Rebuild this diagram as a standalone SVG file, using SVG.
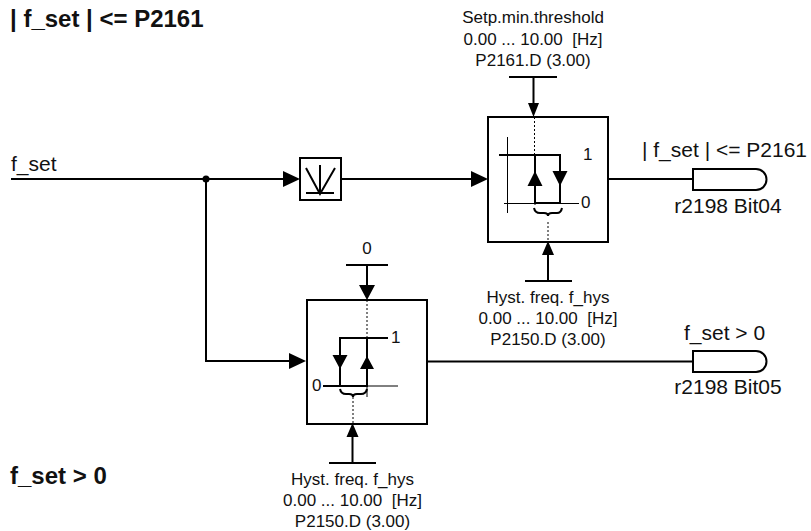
<svg xmlns="http://www.w3.org/2000/svg" width="811" height="531" viewBox="0 0 811 531">
<style>
text{font-family:"Liberation Sans",Arial,sans-serif;fill:#111;white-space:pre}
.s{font-size:17px;text-anchor:middle}
.m{font-size:21px}
.n{font-size:17px}
.c{text-anchor:middle}
.h{font-size:24px;font-weight:bold}
.l{fill:none;stroke:#000;stroke-width:2}
.t{fill:none;stroke:#000;stroke-width:1}
.d{fill:none;stroke:#000;stroke-width:1;stroke-dasharray:2 2}
.b{fill:#fff;stroke:#000;stroke-width:2}
.o{fill:#fff;stroke:#000;stroke-width:2}
.a{fill:#000;stroke:none}
</style>
<text class="h" x="10" y="27">| f_set | &lt;= P2161</text>
<text class="h" x="10" y="484">f_set &gt; 0</text>
<g id="connectors">
<path class="l" d="M11 179H283M206 179V361H290M341 179H472M608 179H693M427 361.500H693"/>
<circle cx="206" cy="179" r="3.500" fill="#000"/>
<path class="a" d="M283 171L300 179L283 187ZM471 171L488 179L471 187ZM289 353L306 361L289 369Z"/>
<path class="l" d="M533.500 77V104M509 77H557M548 254V281M525 281H572M367 265V288M346 265H388M352.500 436V463M329 463H376"/>
<path class="a" d="M528 103H539L533.500 117ZM359 285H375L367 300ZM548 241L554 255H542ZM352.500 423L358.500 437H346.500Z"/>
</g>
<g id="abs-block">
<rect class="b" x="300" y="158" width="41" height="42"/>
<path class="l" d="M306 168L320 194L335 168M320 165V194M306 193H334"/>
</g>
<g id="upper-hysteresis">
<rect class="b" x="488" y="117" width="120" height="125"/>
<path class="t" d="M507.500 137V213M504 203.500H579"/>
<path class="l" d="M499 155H560V203H535V155"/>
<path class="a" d="M535 171L542.500 186H527.500ZM552.500 171H567.500L560 186Z"/>
<path class="d" d="M534.500 117V155M548 222V242M535 203V207"/>
<path class="l" d="M534 208Q535 213 540 213H544Q548 213 548 216Q548 213 552 213H557Q561 213 562 208"/>
<text class="n" x="583" y="160">1</text>
<text class="n" x="581" y="208">0</text>
</g>
<g id="lower-hysteresis">
<rect class="b" x="307" y="300" width="120" height="124"/>
<path class="t" d="M323 386H398M367 386V397"/>
<path class="l" d="M388 338H340V386H367V338M323 386H367"/>
<path class="a" d="M367 356L374 369H360ZM332.500 355H347.500L340 369Z"/>
<path class="d" d="M367 300V338M353 397V424"/>
<path class="l" d="M340 389Q341 394 346 394H349Q353 394 353 397Q353 394 357 394H361Q366 394 367 389"/>
<text class="n" x="391" y="343">1</text>
<text class="n" x="312" y="391">0</text>
</g>
<g id="output-bit04">
<path class="o" d="M693 169H756A10.500 10.500 0 0 1 756 190H693Z"/>
<text class="m" x="642" y="157">| f_set | &lt;= P2161</text>
<text class="m c" x="728" y="213">r2198 Bit04</text>
</g>
<g id="output-bit05">
<path class="o" d="M693 351H756A10.500 10.500 0 0 1 756 372H693Z"/>
<text class="m" x="684" y="340">f_set &gt; 0</text>
<text class="m c" x="728" y="394">r2198 Bit05</text>
</g>
<g id="input-f-set"><text class="m" x="11" y="171">f_set</text></g>
<g id="param-setp">
<text class="s" x="533" y="23">Setp.min.threshold</text>
<text class="s" x="533" y="45">0.00 ... 10.00  [Hz]</text>
<text class="s" x="533" y="66">P2161.D (3.00)</text>
</g>
<g id="param-hys-upper">
<text class="s" x="548" y="303">Hyst. freq. f_hys</text>
<text class="s" x="548" y="324">0.00 ... 10.00  [Hz]</text>
<text class="s" x="548" y="345">P2150.D (3.00)</text>
</g>
<g id="param-zero"><text class="n c" x="367" y="254">0</text></g>
<g id="param-hys-lower">
<text class="s" x="352.500" y="485">Hyst. freq. f_hys</text>
<text class="s" x="352.500" y="506">0.00 ... 10.00  [Hz]</text>
<text class="s" x="352.500" y="527">P2150.D (3.00)</text>
</g>
</svg>
